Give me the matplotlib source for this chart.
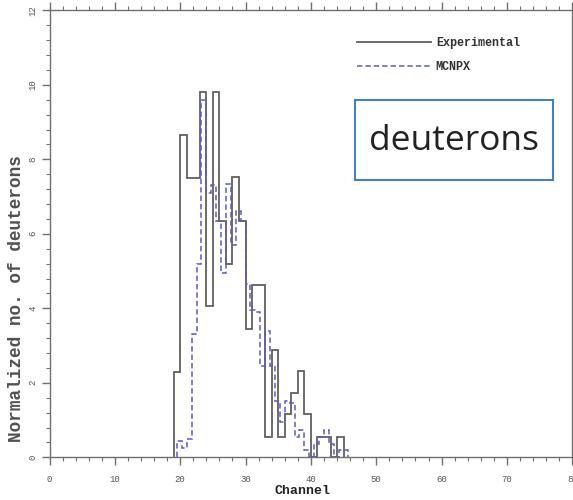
import numpy as np
import matplotlib
matplotlib.use("Agg")
import matplotlib.pyplot as plt
from matplotlib.patches import Rectangle
from matplotlib.ticker import MultipleLocator

# experimental histogram, 1 channel per bin, first bin starts at channel 19
exp_start = 19
exp_width = 1.0
exp_values = [2.30, 8.65, 7.50, 7.50, 9.80, 4.05, 9.80, 6.35, 5.20, 7.52,
              6.35, 3.45, 4.63, 4.63, 0.55, 2.88, 0.55, 1.15, 1.73, 2.32,
              1.15, 0.00, 0.55, 0.55, 0.00, 0.55]

# MCNPX histogram, 0.75 channel per bin, first bin starts at channel 19.5
mcnp_start = 19.5
mcnp_width = 0.75
mcnp_values = [0.45, 0.25, 0.50, 3.30, 5.20, 9.60, 7.10, 7.30, 6.35, 4.95,
               7.35, 5.70, 6.60, 6.35, 4.65, 3.95, 3.90, 2.45, 3.40, 2.45,
               1.50, 0.96, 1.50, 1.45, 0.55, 0.73, 0.20, 0.00, 0.35, 0.55,
               0.73, 0.35, 0.00, 0.20, 0.20]

x_ticks = [0, 10, 20, 30, 40, 50, 60, 70, 80]
y_ticks = [0, 2, 4, 6, 8, 10, 12]

mono = ["Liberation Mono", "DejaVu Sans Mono"]

fig = plt.figure(figsize=(5.73, 5.0), dpi=100)
ax = fig.add_axes([0.0864, 0.0854, 0.9124, 0.894])

exp_edges = exp_start + exp_width * np.arange(len(exp_values) + 1)
mcnp_edges = mcnp_start + mcnp_width * np.arange(len(mcnp_values) + 1)

ax.stairs(exp_values, exp_edges, baseline=0, color="#606060", lw=1.3,
          label="Experimental")
ax.stairs(mcnp_values, mcnp_edges, baseline=0, color="#5a5ac8", lw=1.1,
          linestyle=(0, (3.5, 2)), label="MCNPX")

ax.set_xlim(0, 80)
ax.set_ylim(0, 12)
ax.set_xticks(x_ticks)
ax.set_yticks(y_ticks)
ax.xaxis.set_minor_locator(MultipleLocator(2))
ax.yaxis.set_minor_locator(MultipleLocator(0.4))

for s in ax.spines.values():
    s.set_color("#707070")
    s.set_linewidth(1.0)

ax.tick_params(which="both", direction="out", color="#707070",
               top=True, right=True, labelcolor="#555555", labelsize=6.5)
ax.tick_params(which="major", length=6, width=1.0)
ax.tick_params(which="minor", length=3, width=0.8)
ax.tick_params(axis="x", pad=7)
ax.tick_params(axis="y", pad=3)

for lab in ax.get_xticklabels():
    lab.set_family(mono)
for lab in ax.get_yticklabels():
    lab.set_family(mono)
    lab.set_rotation(90)
    lab.set_va("center")

ax.set_xlabel("Channel", family=mono, fontsize=9.5, fontweight="bold", color="#222222")
ax.xaxis.set_label_coords(0.483, -0.062)
ax.set_ylabel("Normalized no. of deuterons", family=mono, fontsize=12.8,
              fontweight="bold", color="#505050")
ax.yaxis.set_label_coords(-0.047, 0.354)

leg = ax.legend(loc="upper right", bbox_to_anchor=(0.92, 0.963), frameon=False,
                handlelength=6.2, handletextpad=0.45, labelspacing=0.95,
                prop={"family": mono, "size": 8.5, "weight": "bold"})
for t in leg.get_texts():
    t.set_color("#333333")

# annotation box
box = Rectangle((0.6195, 0.64), 0.3456, 0.16, transform=fig.transFigure,
                facecolor="white", edgecolor="#4a7ebb", lw=1.5, zorder=5)
fig.add_artist(box)
fig.text(0.7923, 0.718, "deuterons", family=["Open Sans", "DejaVu Sans"],
         fontsize=25.5, color="#222222", ha="center", va="center", zorder=6)

fig.savefig("out.png", dpi=100)
